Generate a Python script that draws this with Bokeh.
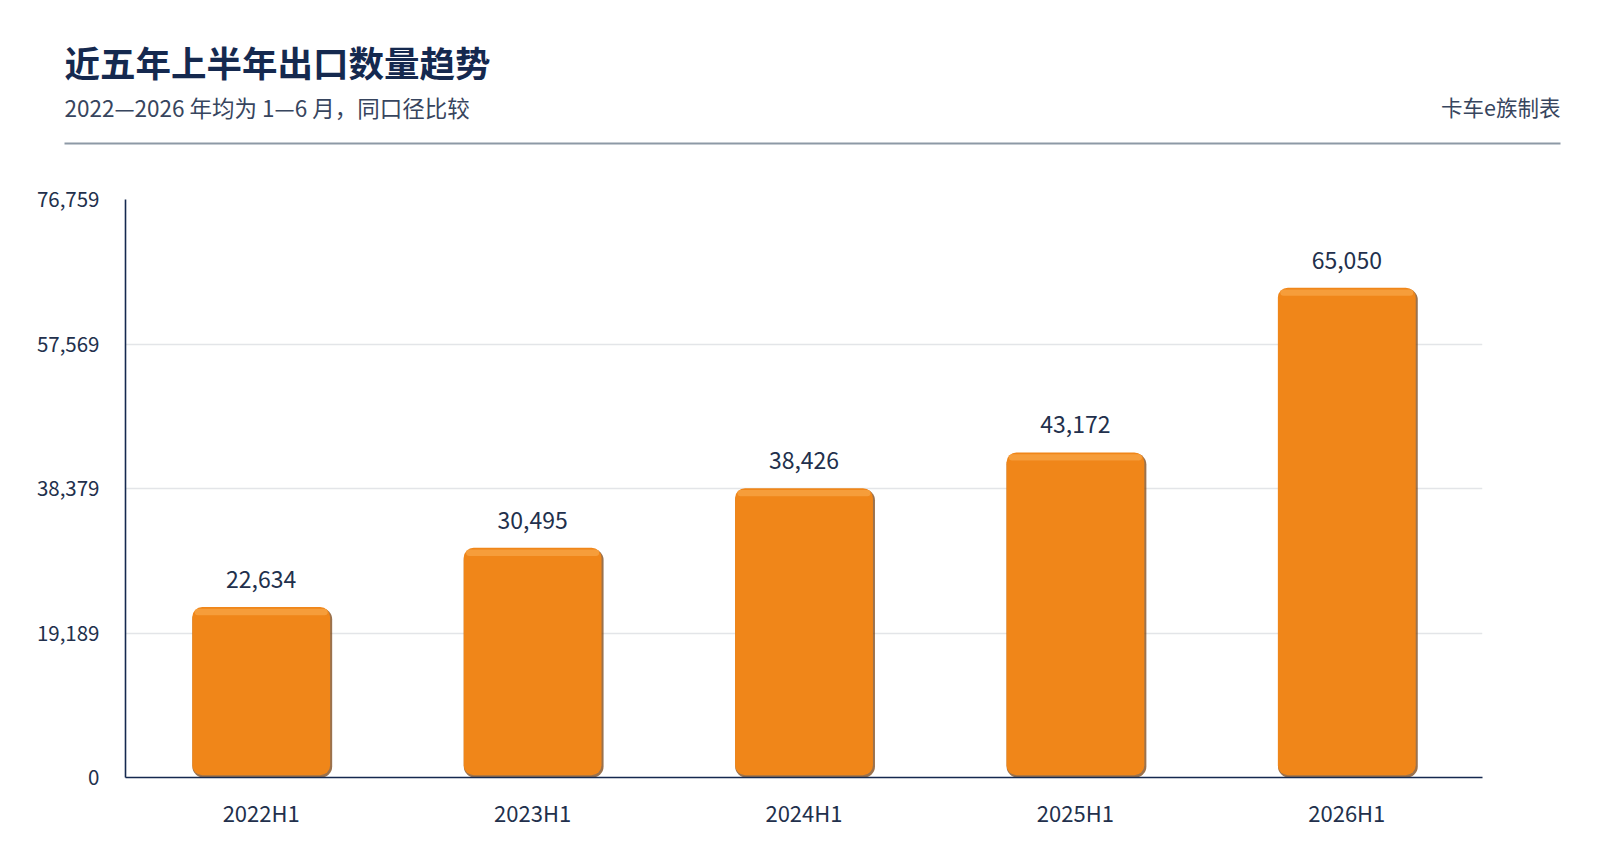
from bokeh.plotting import figure
from bokeh.layouts import column
from bokeh.models import ColumnDataSource, FixedTicker, LabelSet, Range1d, CustomJSTickFormatter
from bokeh.core.properties import value
from bokeh.transform import dodge
from bokeh.embed import file_html
from bokeh.resources import INLINE

categories = ["2022H1", "2023H1", "2024H1", "2025H1", "2026H1"]
values = [22634, 30495, 38426, 43172, 65050]
y_max = 76759
y_ticks = [0, 19189, 38379, 57569, 76759]
value_labels = ["22,634", "30,495", "38,426", "43,172", "65,050"]

title_text = "近五年上半年出口数量趋势"
subtitle_text = "2022—2026 年均为 1—6 月，同口径比较"
source_text = "卡车e族制表"

FONT = "Noto Sans CJK SC"
NAVY = "#15294f"
TEXT = "#22304c"
SUB = "#37455e"

W = 1588
HEADER_H = 180

# ---------- header ----------
h = figure(width=W, height=HEADER_H, x_range=Range1d(0, W), y_range=Range1d(HEADER_H, 0),
           output_backend="svg", toolbar_location=None, min_border=0,
           background_fill_color="white", border_fill_color="white")
h.frame_align = False
h.axis.visible = False
h.grid.visible = False
h.outline_line_color = None

h.text(x=[64], y=[61], text=[title_text], text_font=value(FONT), text_font_size="35.5px",
       text_font_style="bold", text_color=NAVY, text_baseline="middle", text_align="left")
h.text(x=[64], y=[106], text=[subtitle_text], text_font=value(FONT), text_font_size="22.5px",
       text_color=SUB, text_baseline="middle", text_align="left")
h.text(x=[1560], y=[106], text=[source_text], text_font=value(FONT), text_font_size="21.5px",
       text_color=SUB, text_baseline="middle", text_align="right")
h.segment(x0=[64], y0=[143], x1=[1560], y1=[143], line_color="#8d99a6", line_width=2.2)

# ---------- chart ----------
src = ColumnDataSource(dict(
    cat=categories,
    val=values,
    lab=value_labels,
    shadow_top=[v - y_max * 0.002 for v in values],
    main_bottom=[y_max * 0.004] * len(values),
    hi_top=[v - y_max * 0.003 for v in values],
    hi_bottom=[v - y_max * 0.014 for v in values],
))

p = figure(
    x_range=categories, y_range=Range1d(0, y_max),
    frame_width=1357, frame_height=578,
    min_border_left=125, min_border_right=106, min_border_top=19, min_border_bottom=53,
    output_backend="svg", toolbar_location=None, background_fill_color="white",
    border_fill_color="white",
)
p.frame_align = False
p.outline_line_color = None
p.x_range.range_padding = 0

# soft shadow (right / bottom), main body, top highlight
p.vbar(x=dodge("cat", 0.004, range=p.x_range), top="shadow_top", bottom=0, width=0.515,
       source=src, fill_color="#7a4312", fill_alpha=0.75, line_color=None, border_radius=11)
p.vbar(x="cat", top="val", bottom="main_bottom", width=0.508, source=src,
       fill_color="#f08619", line_color=None, border_radius=10)
p.vbar(x="cat", top="hi_top", bottom="hi_bottom", width=0.49, source=src,
       fill_color="#f8a649", fill_alpha=0.7, line_color=None, border_radius=8)

labels = LabelSet(x="cat", y="val", text="lab", source=src, text_align="center",
                  text_baseline="bottom", y_offset=19, text_font=value(FONT),
                  text_font_size="23px", text_color=TEXT)
p.add_layout(labels)

p.yaxis.ticker = FixedTicker(ticks=y_ticks)
p.yaxis.formatter = CustomJSTickFormatter(code="return Math.floor(tick).toLocaleString('en-US');")
p.xgrid.grid_line_color = None
p.ygrid.grid_line_color = "#e3e5e8"
p.ygrid.grid_line_width = 1.5

for ax in (p.xaxis, p.yaxis):
    ax.axis_line_color = NAVY
    ax.axis_line_width = 1.6
    ax.major_tick_line_color = None
    ax.minor_tick_line_color = None
    ax.major_label_text_font = FONT
    ax.major_label_text_color = TEXT
p.yaxis.major_label_text_font_size = "20.5px"
p.xaxis.major_label_text_font_size = "22px"
p.yaxis.major_label_standoff = 20
p.xaxis.major_label_standoff = 12

open("out.html", "w").write(file_html(column(h, p, spacing=0), INLINE))
